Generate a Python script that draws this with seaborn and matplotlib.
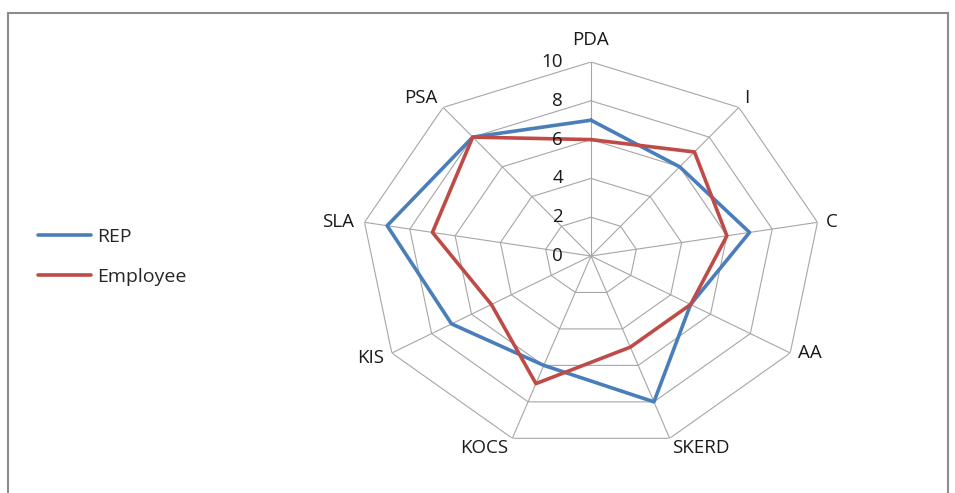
import numpy as np
import pandas as pd
import matplotlib
matplotlib.use("Agg")
import matplotlib.pyplot as plt
from matplotlib.patches import Rectangle
from matplotlib.lines import Line2D
import seaborn as sns

categories = ["PDA", "I", "C", "AA", "SKERD", "KOCS", "KIS", "SLA", "PSA"]
rep_values = [7, 6, 7, 5, 8, 6, 7, 9, 8]
employee_values = [6, 7, 6, 5, 5, 7, 5, 7, 8]
series_names = ["REP", "Employee"]
radial_ticks = [0, 2, 4, 6, 8, 10]

sns.set_style("white")
plt.rcParams["font.family"] = ["Open Sans", "DejaVu Sans"]

W, H = 955, 493
fig = plt.figure(figsize=(W / 100, H / 100), dpi=100)

# chart frame
fig.patches.append(Rectangle((8 / W, -0.1), (948 - 8) / W, (H - 13) / H + 0.1,
                             transform=fig.transFigure, fill=False,
                             edgecolor="#8c8c8c", linewidth=1.5))

cx, cy, rx, ry = 591, 256, 230, 194
ax = fig.add_axes([(cx - rx) / W, (H - cy - ry) / H, 2 * rx / W, 2 * ry / H],
                  projection="polar")
ax.set_aspect("auto")
ax.set_theta_zero_location("N")
ax.set_theta_direction(-1)
ax.set_ylim(0, 10)
ax.grid(False)
ax.spines["polar"].set_visible(False)
ax.set_xticks([])
ax.set_yticks([])
ax.patch.set_alpha(0)

n = len(categories)
angles = np.deg2rad(np.arange(n) * 360.0 / n)
closed = np.append(angles, angles[0])

grid_color = "#a6a6a6"
for r in radial_ticks[1:]:
    ax.plot(closed, [r] * (n + 1), color=grid_color, lw=0.8, zorder=1)
for a in angles:
    ax.plot([a, a], [0, 10], color=grid_color, lw=0.8, zorder=1)

rows = []
for name, vals in zip(series_names, [rep_values, employee_values]):
    vv = list(vals) + [vals[0]]
    for i, (t, v) in enumerate(zip(closed, vv)):
        rows.append({"series": name, "theta": t, "value": v, "order": i})
df = pd.DataFrame(rows)
palette = {"REP": "#4a7ebb", "Employee": "#be4b48"}
sns.lineplot(data=df, x="theta", y="value", hue="series", palette=palette,
             sort=False, estimator=None, units="series", lw=2.6, ax=ax,
             legend=False, zorder=3)
ax.set_xlabel("")
ax.set_ylabel("")
ax.set_ylim(0, 10)

fs = 13.5
for r in radial_ticks:
    ax.annotate(str(r), xy=(0, r), xytext=(-28, 0), textcoords="offset pixels",
                ha="right", va="center", fontsize=fs, color="#1a1a1a")

offsets = {"PDA": (0, 13), "I": (5, 0), "C": (8, 0), "AA": (8, 0),
           "SKERD": (2, -1), "KOCS": (-4, -1), "KIS": (-8, 4),
           "SLA": (-10, 0), "PSA": (-6, 0)}
for a, lab in zip(angles, categories):
    s, c = np.sin(a), np.cos(a)
    ha = "center" if abs(s) < 0.1 else ("left" if s > 0 else "right")
    va = "bottom" if c > 0.5 else ("top" if c < -0.5 else "center")
    ax.annotate(lab, xy=(a, 10), xytext=offsets[lab], textcoords="offset pixels",
                ha=ha, va=va, fontsize=fs, color="#1a1a1a", annotation_clip=False)

handles = [Line2D([], [], color=palette[s], lw=2.6) for s in series_names]
fig.legend(handles, series_names, loc="center left",
           bbox_to_anchor=(28 / W, (H - 257) / H), frameon=False,
           fontsize=14, handlelength=2.75, handletextpad=0.3, labelspacing=1.15,
           borderpad=0)

fig.savefig("out.png", dpi=100, facecolor="white")
